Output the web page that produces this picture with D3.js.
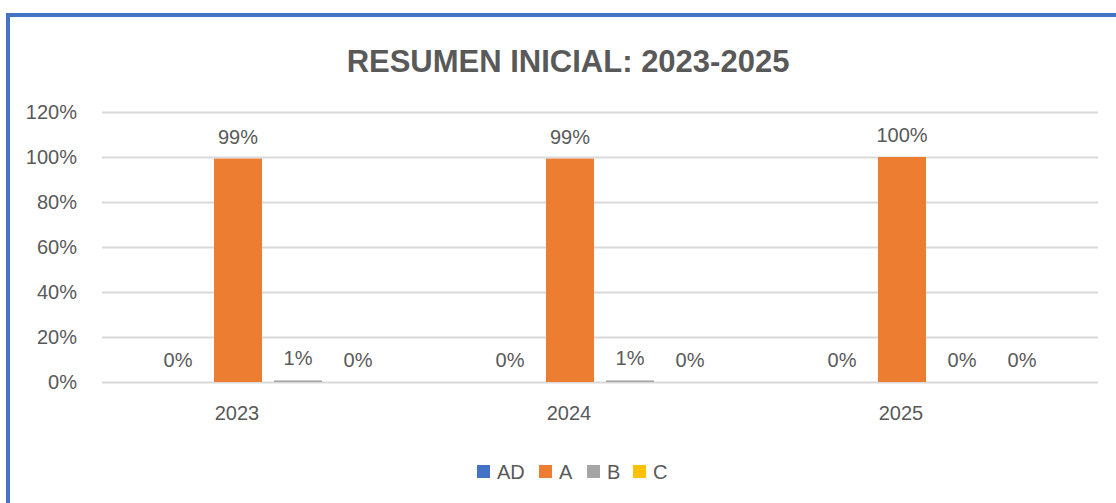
<!DOCTYPE html>
<html>
<head>
<meta charset="utf-8">
<script src="https://cdn.jsdelivr.net/npm/d3@7"></script>
<style>
  body { margin: 0; background: #fff; }
  text { font-family: "Liberation Sans", Arial, sans-serif; fill: #595959; }
</style>
</head>
<body>
<div class="content"></div>
<script>
var size = {width: 1116, height: 503};
var padding = {left: 102, right: 18, top: 112, bottom: 121};

// Chart data
var years = ["2023", "2024", "2025"];
var series = ["AD", "A", "B", "C"];
var colors = ["#4472C4", "#ED7D31", "#A5A5A5", "#FFC000"];
var valuesAD = [0, 0, 0];
var valuesA = [0.993, 0.993, 1.0];
var valuesB = [0.007, 0.007, 0.0];
var valuesC = [0, 0, 0];
var yTicks = [0, 0.2, 0.4, 0.6, 0.8, 1.0, 1.2];

var table = [];
years.forEach(function(y, i) {
    var vals = [valuesAD[i], valuesA[i], valuesB[i], valuesC[i]];
    series.forEach(function(s, j) {
        table.push({year: y, series: s, value: vals[j], color: colors[j]});
    });
});

var chart = d3.select('.content')
    .append('svg:svg')
    .attr('width', size.width)
    .attr('height', size.height);

// Outer blue frame (runs past the right and bottom edges)
chart.append('rect')
    .attr('x', 8).attr('y', 15)
    .attr('width', size.width + 20).attr('height', size.height + 20)
    .attr('fill', 'none')
    .attr('stroke', '#4472C4')
    .attr('stroke-width', 4);

chart.append('text')
    .attr('x', 568).attr('y', 72)
    .attr('text-anchor', 'middle')
    .style('font-size', '31px')
    .style('font-weight', 'bold')
    .text('RESUMEN INICIAL: 2023-2025');

var xScale = d3.scaleBand()
    .domain(years)
    .range([padding.left, size.width - padding.right]);
var xInner = d3.scaleBand()
    .domain(series)
    .range([0, xScale.bandwidth()])
    .paddingInner(0.2)
    .paddingOuter(0.867);
var yScale = d3.scaleLinear()
    .domain([0, 1.2])
    .range([size.height - padding.bottom, padding.top]);

// Gridlines and y labels
var yAxis = d3.axisLeft(yScale)
    .tickValues(yTicks)
    .tickFormat(d3.format(".0%"))
    .tickSize(-(size.width - padding.left - padding.right))
    .tickPadding(25);
var yAxisObj = chart.append('g')
    .attr('transform', 'translate(' + padding.left + ',0)')
    .call(yAxis);
yAxisObj.select('.domain').remove();
yAxisObj.selectAll('line').attr('stroke', '#D9D9D9').attr('stroke-width', 2);
yAxisObj.selectAll('text').style('font-size', '20px').attr('fill', '#595959');

// x labels
var xAxis = d3.axisBottom(xScale).tickSize(0).tickPadding(24);
var xAxisObj = chart.append('g')
    .attr('transform', 'translate(0,' + (size.height - padding.bottom) + ')')
    .call(xAxis);
xAxisObj.select('.domain').remove();
xAxisObj.selectAll('text').style('font-size', '20px').attr('fill', '#595959')
    .attr('dx', -31);

// Bars
var plot = chart.append('g');
plot.selectAll('rect.bar').data(table)
    .enter().append('rect')
    .attr('class', 'bar')
    .attr('x', function(d) { return xScale(d.year) + xInner(d.series); })
    .attr('width', xInner.bandwidth())
    .attr('y', function(d) { return yScale(d.value); })
    .attr('height', function(d) { return yScale(0) - yScale(d.value); })
    .attr('fill', function(d) { return d.color; });

// Data labels
plot.selectAll('text.lbl').data(table)
    .enter().append('text')
    .attr('class', 'lbl')
    .attr('x', function(d) { return xScale(d.year) + xInner(d.series) + xInner.bandwidth() / 2; })
    .attr('y', function(d) { return yScale(d.value) - 15; })
    .attr('text-anchor', 'middle')
    .style('font-size', '20px')
    .text(function(d) { return d3.format(".0%")(d.value); });

// Legend
var legendX = [477, 539, 587, 633];
var legend = chart.append('g');
series.forEach(function(s, i) {
    legend.append('rect')
        .attr('x', legendX[i]).attr('y', 465)
        .attr('width', 13).attr('height', 13)
        .attr('fill', colors[i]);
    legend.append('text')
        .attr('x', legendX[i] + 20).attr('y', 479)
        .style('font-size', '20px')
        .text(s);
});
</script>
</body>
</html>
